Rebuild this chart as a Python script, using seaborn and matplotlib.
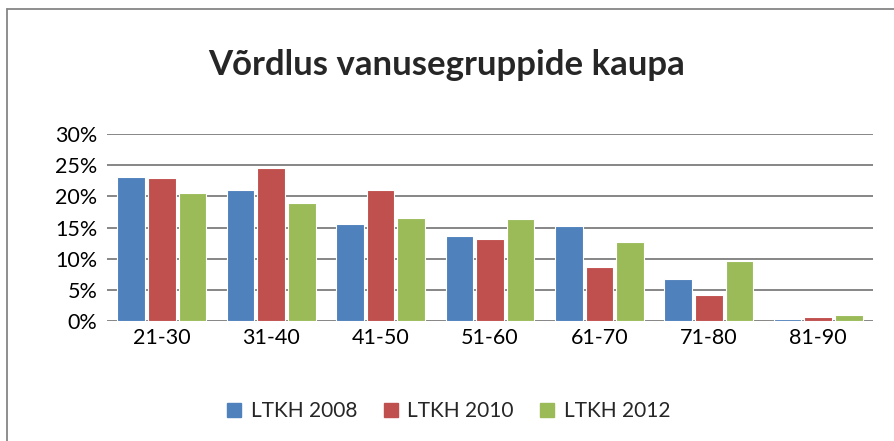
import pandas as pd
import numpy as np
import matplotlib.pyplot as plt
import seaborn as sns
from matplotlib.lines import Line2D

groups = ["21-30", "31-40", "41-50", "51-60", "61-70", "71-80", "81-90"]
series = ["LTKH 2008", "LTKH 2010", "LTKH 2012"]
ltkh_2008 = [23.1, 21.0, 15.6, 13.7, 15.2, 6.8, 0.4]
ltkh_2010 = [22.9, 24.5, 21.0, 13.1, 8.7, 4.2, 0.7]
ltkh_2012 = [20.5, 18.9, 16.6, 16.3, 12.7, 9.7, 0.9]
colors = ["#4F81BD", "#C0504D", "#9BBB59"]

df = pd.DataFrame({
    "Group": groups * 3,
    "Series": np.repeat(series, len(groups)),
    "Value": ltkh_2008 + ltkh_2010 + ltkh_2012,
})

sns.set_style("white")
plt.rcParams["font.family"] = ["Lato", "DejaVu Sans"]

fig = plt.figure(figsize=(8.94, 4.41), dpi=100)
ax = fig.add_axes([0.1197, 0.2721, 0.8568, 0.424])

sns.barplot(data=df, x="Group", y="Value", hue="Series", palette=colors,
            saturation=1, width=0.84, gap=0.1, edgecolor="white", linewidth=0.8,
            ax=ax, zorder=3)

ax.set_ylim(0, 30)
ax.set_xlim(-0.5, len(groups) - 0.5)
ax.set_yticks(range(0, 31, 5))
ax.set_yticklabels([f"{v}%" for v in range(0, 31, 5)])
ax.yaxis.grid(True, color="#868686", linewidth=1.4, zorder=0)
ax.set_axisbelow(True)
for s in ax.spines.values():
    s.set_visible(False)
ax.tick_params(axis="both", length=0, labelsize=15.5, colors="black", pad=5)
ax.tick_params(axis="y", pad=7)
ax.set_xlabel("")
ax.set_ylabel("")

ax.legend_.remove()
handles = [Line2D([0], [0], marker="s", linestyle="", markersize=10,
                  markerfacecolor=c, markeredgecolor=c) for c in colors]
fig.legend(handles, series, loc="center", bbox_to_anchor=(0.5, 0.068),
           ncol=3, frameon=False, fontsize=15, handletextpad=0.3,
           columnspacing=1.1, handlelength=1.0)

fig.text(0.5, 0.853, "Võrdlus vanusegruppide kaupa", ha="center", va="center",
         fontsize=25, fontweight="bold")

# chart border
fig.add_artist(Line2D([7 / 894, 1], [1 - 9 / 441, 1 - 9 / 441], color="#868686", linewidth=1.3))
fig.add_artist(Line2D([7 / 894, 7 / 894], [0, 1 - 9 / 441], color="#868686", linewidth=1.3))

fig.savefig("out.png", dpi=100)
